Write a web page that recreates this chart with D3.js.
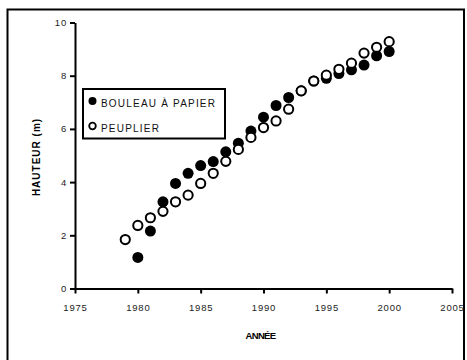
<!DOCTYPE html>
<html><head><meta charset="utf-8">
<script src="https://cdn.jsdelivr.net/npm/d3@7"></script>
<style>body{margin:0;background:#fff}</style>
</head><body>
<script>
const years = [1979,1980,1981,1982,1983,1984,1985,1986,1987,1988,1989,1990,1991,1992,1993,1994,1995,1996,1997,1998,1999,2000];
const bouleau = [null,1.17,2.16,3.26,3.95,4.33,4.62,4.77,5.14,5.46,5.92,6.44,6.88,7.18,7.43,7.80,7.90,8.08,8.22,8.40,8.75,8.91];
const peuplier = [1.84,2.37,2.66,2.90,3.26,3.51,3.95,4.33,4.78,5.23,5.68,6.05,6.30,6.74,7.43,7.80,8.02,8.24,8.47,8.85,9.07,9.28];
const xTicks = [1975,1980,1985,1990,1995,2000,2005];
const yTicks = [0,2,4,6,8,10];
const seriesNames = ["BOULEAU À PAPIER","PEUPLIER"];

const W=467,H=360;
const svg=d3.select("body").append("svg").attr("width",W).attr("height",H);
svg.append("rect").attr("x",7.5).attr("y",9.5).attr("width",456.5).attr("height",360).attr("fill","#fff").attr("stroke","#000").attr("stroke-width",2);

const x=d3.scaleLinear().domain([1975,2005]).range([75,452]);
const y=d3.scaleLinear().domain([0,10]).range([288.5,22.5]);
const font="Liberation Sans, Arial, sans-serif";

const xa=svg.append("g").attr("transform","translate(0,288.5)")
  .call(d3.axisBottom(x).tickValues(xTicks).tickFormat(d3.format("d")).tickSize(5).tickSizeOuter(0));
const ya=svg.append("g").attr("transform","translate(75,0)")
  .call(d3.axisLeft(y).tickValues(yTicks).tickSize(5).tickSizeOuter(0));
[xa,ya].forEach(a=>{
  a.select(".domain").attr("stroke","#000").attr("stroke-width",2);
  a.selectAll(".tick line").attr("stroke","#000").attr("stroke-width",2);
  a.selectAll(".tick text").attr("font-family",font).attr("font-size",9.5).attr("fill","#222").attr("letter-spacing",0.8);
});
xa.selectAll(".tick text").attr("dy","1.55em");
ya.selectAll(".tick text").attr("x",-8);

svg.append("text").attr("x",260.5).attr("y",339).attr("text-anchor","middle")
  .attr("font-family",font).attr("font-size",9.5).attr("font-weight","bold").attr("letter-spacing",-0.7).text("ANNÉE");
svg.append("text").attr("transform","translate(40,157) rotate(-90)").attr("text-anchor","middle")
  .attr("font-family",font).attr("font-size",10).attr("font-weight","bold").attr("letter-spacing",1).text("HAUTEUR (m)");

const bData=years.map((d,i)=>({yr:d,v:bouleau[i]})).filter(d=>d.v!=null);
const pData=years.map((d,i)=>({yr:d,v:peuplier[i]})).filter(d=>d.v!=null);
svg.append("g").selectAll("circle").data(bData).join("circle")
  .attr("cx",d=>x(d.yr)).attr("cy",d=>y(d.v)).attr("r",5.5).attr("fill","#000");
svg.append("g").selectAll("circle").data(pData).join("circle")
  .attr("cx",d=>x(d.yr)).attr("cy",d=>y(d.v)).attr("r",4.6).attr("fill","#fff").attr("stroke","#000").attr("stroke-width",2);

// legend
const lg=svg.append("g");
lg.append("rect").attr("x",83).attr("y",89).attr("width",142).attr("height",49.5).attr("fill","#fff").attr("stroke","#000").attr("stroke-width",2);
lg.append("circle").attr("cx",92.5).attr("cy",101).attr("r",4).attr("fill","#000");
lg.append("circle").attr("cx",92.5).attr("cy",126).attr("r",3.3).attr("fill","#fff").attr("stroke","#000").attr("stroke-width",1.8);
lg.selectAll("text.l").data(seriesNames).join("text").attr("class","l")
  .attr("x",101).attr("y",(d,i)=>107+i*24.5).attr("font-family",font).attr("font-size",10).attr("letter-spacing",1.2).attr("fill","#111").text(d=>d);
</script>
</body></html>
